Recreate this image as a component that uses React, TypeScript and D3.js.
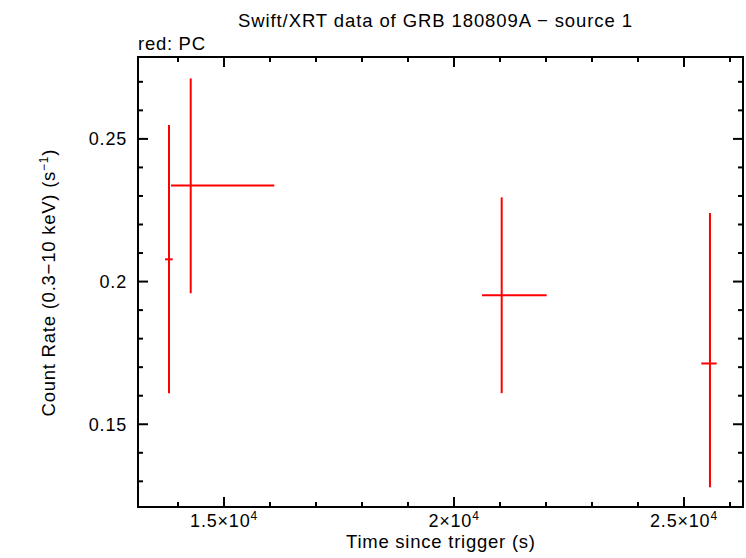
import React from "react";
import * as d3 from "d3";

const times = [13804, 14276, 21037, 25565];
const timeLo = [13717, 13848, 20609, 25376];
const timeHi = [13885, 16093, 22015, 25710];
const rates = [0.2078, 0.2337, 0.1952, 0.1713];
const rateLo = [0.1609, 0.1959, 0.1609, 0.1279];
const rateHi = [0.2549, 0.2712, 0.2295, 0.224];

const xMajor = [15000, 20000, 25000];
const xMajorLabels = ["1.5", "2", "2.5"];
const yMajor = [0.15, 0.2, 0.25];
const yMajorLabels = ["0.15", "0.2", "0.25"];

const W = 746, H = 558;
const L = 138, R = 743, T = 57, B = 507;

export default function App() {
  const x = d3.scaleLinear().domain([13130, 26283]).range([L, R]);
  const y = d3.scaleLinear().domain([0.121, 0.2787]).range([B, T]);
  const xMinor = d3.range(14000, 26300, 1000).filter((v) => v % 5000 !== 0 && x(v) > L && x(v) < R);
  const yMinor = d3.range(0.13, 0.279, 0.01).filter((v) => Math.abs(v * 100 - Math.round(v * 20) * 5) > 0.01);
  const font = "'Liberation Sans', Arial, sans-serif";
  const maj = 10, mn = 5;
  return (
    <svg width={W} height={H} style={{ position: "absolute", left: 0, top: 0 }} fontFamily={font}>
      <rect width={W} height={H} fill="white" />
      <text x={435} y={27} textAnchor="middle" fontSize={18.5} textLength={394} lengthAdjust="spacing">Swift/XRT data of GRB 180809A − source 1</text>
      <text x={138} y={50} fontSize={18.5} textLength={67} lengthAdjust="spacing">red: PC</text>
      <g stroke="black" strokeWidth={2}>
        <rect x={L} y={T} width={R - L} height={B - T} fill="none" />
        {xMajor.map((v) => (
          <g key={"xm" + v}>
            <line x1={x(v)} x2={x(v)} y1={B} y2={B - maj} />
            <line x1={x(v)} x2={x(v)} y1={T} y2={T + maj} />
          </g>
        ))}
        {xMinor.map((v) => (
          <g key={"xn" + v}>
            <line x1={x(v)} x2={x(v)} y1={B} y2={B - mn} />
            <line x1={x(v)} x2={x(v)} y1={T} y2={T + mn} />
          </g>
        ))}
        {yMajor.map((v) => (
          <g key={"ym" + v}>
            <line x1={L} x2={L + maj} y1={y(v)} y2={y(v)} />
            <line x1={R} x2={R - maj} y1={y(v)} y2={y(v)} />
          </g>
        ))}
        {yMinor.map((v) => (
          <g key={"yn" + v}>
            <line x1={L} x2={L + mn} y1={y(v)} y2={y(v)} />
            <line x1={R} x2={R - mn} y1={y(v)} y2={y(v)} />
          </g>
        ))}
      </g>
      {xMajor.map((v, i) => (
        <text key={"xl" + v} x={x(v)} y={527} textAnchor="middle" fontSize={18} letterSpacing={0.8}>
          {xMajorLabels[i]}×10<tspan dy={-7} fontSize={12}>4</tspan>
        </text>
      ))}
      {yMajor.map((v, i) => (
        <text key={"yl" + v} x={127} y={y(v) + 6.5} textAnchor="end" fontSize={18} letterSpacing={0.8}>{yMajorLabels[i]}</text>
      ))}
      <text x={440.5} y={548} textAnchor="middle" fontSize={18.5} textLength={189} lengthAdjust="spacing">Time since trigger (s)</text>
      <text transform={`translate(55, 283) rotate(-90)`} textAnchor="middle" fontSize={18.5} textLength={267} lengthAdjust="spacing">
        Count Rate (0.3−10 keV) (s<tspan dy={-7} fontSize={12}>−1</tspan><tspan dy={7}>)</tspan>
      </text>
      <g stroke="red" strokeWidth={2}>
        {times.map((t, i) => (
          <g key={"p" + i}>
            <line x1={x(timeLo[i])} x2={x(timeHi[i])} y1={y(rates[i])} y2={y(rates[i])} />
            <line x1={x(t)} x2={x(t)} y1={y(rateLo[i])} y2={y(rateHi[i])} />
          </g>
        ))}
      </g>
    </svg>
  );
}
